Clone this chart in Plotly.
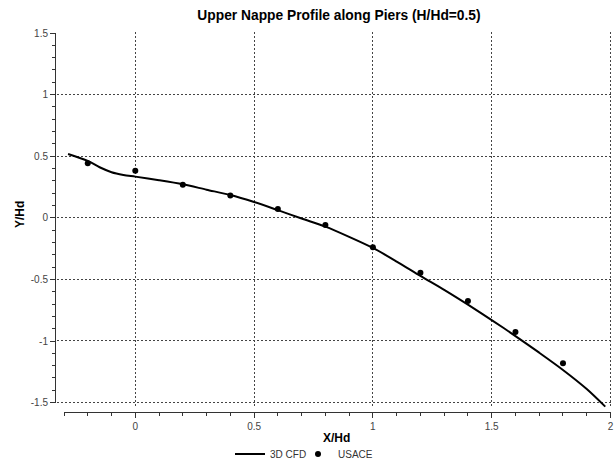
import plotly.graph_objects as go

# 3D CFD profile
cfd_x = [-0.283, -0.2, -0.15, -0.1, -0.05, 0.0, 0.1, 0.2, 0.3, 0.4, 0.5, 0.6, 0.7, 0.8,
         0.9, 1.0, 1.1, 1.2, 1.3, 1.4, 1.5, 1.6, 1.7, 1.8, 1.9, 1.978]
cfd_y = [0.518, 0.462, 0.41, 0.37, 0.348, 0.334, 0.305, 0.272, 0.228, 0.185, 0.128, 0.062,
         -0.006, -0.072, -0.155, -0.245, -0.355, -0.472, -0.585, -0.705, -0.83, -0.96,
         -1.095, -1.235, -1.39, -1.533]

# USACE data points
usace_x = [-0.2, 0.0, 0.2, 0.4, 0.6, 0.8, 1.0, 1.2, 1.4, 1.6, 1.8]
usace_y = [0.442, 0.382, 0.269, 0.18, 0.072, -0.058, -0.24, -0.446, -0.675, -0.927, -1.18]

x_ticks = [0, 0.5, 1, 1.5, 2]
x_tick_labels = ["0", "0.5", "1", "1.5", "2"]
y_ticks = [-1.5, -1, -0.5, 0, 0.5, 1, 1.5]
y_tick_labels = ["-1.5", "-1", "-0.5", "0", "0.5", "1", "1.5"]

FONT = "Arial, Liberation Sans, sans-serif"

W, H = 616, 465
L, R, T, B = 55, 3, 32, 53
PW, PH = W - L - R, H - T - B  # 558 x 380


def px(xpage):
    return (xpage - L) / PW


def py(ypage):
    return (H - B - ypage) / PH


fig = go.Figure()
fig.add_trace(go.Scatter(x=cfd_x, y=cfd_y, mode="lines", name="3D CFD", legend="legend",
                         line=dict(color="black", width=2, shape="spline", smoothing=0.8)))
fig.add_trace(go.Scatter(x=usace_x, y=usace_y, mode="markers", name="USACE", legend="legend2",
                         marker=dict(color="black", size=6, symbol="circle")))
# transparent copy that activates the offset tick axes (x2/y2)
fig.add_trace(go.Scatter(x=usace_x, y=usace_y, mode="markers", xaxis="x2", yaxis="y2",
                         marker=dict(opacity=0), showlegend=False, hoverinfo="skip"))

grid = dict(showgrid=True, gridcolor="#444444", griddash="2px,2px", gridwidth=1,
            zeroline=False, showline=False, ticks="", showticklabels=False,
            automargin=False)

tickax = dict(anchor="free", position=0, showgrid=False, zeroline=False,
              showline=True, linecolor="#333333", linewidth=1, automargin=False,
              ticks="outside", ticklen=5, tickcolor="#333333", tickwidth=1,
              ticklabeloverflow="allow",
              minor=dict(dtick=0.1, tick0=0, ticks="outside", ticklen=3,
                         tickcolor="#333333", tickwidth=1, showgrid=False),
              tickfont=dict(family=FONT, size=10, color="#444444"))

leg = dict(orientation="h", xanchor="left", y=py(454), yanchor="middle", itemwidth=30,
           font=dict(family=FONT, size=10, color="#333333"), bgcolor="rgba(0,0,0,0)")

fig.update_layout(
    width=W, height=H,
    margin=dict(l=L, r=R, t=T, b=B, autoexpand=False),
    plot_bgcolor="rgba(0,0,0,0)", paper_bgcolor="white",
    font=dict(family=FONT, size=10, color="#333333"),
    title=dict(text="<b>Upper Nappe Profile along Piers (H/Hd=0.5)</b>",
               x=339 / W, xanchor="center", xref="container",
               y=1 - 15 / H, yanchor="middle", yref="container",
               font=dict(family=FONT, size=13.8, color="black")),
    xaxis=dict(domain=[px(57), 1], range=[-0.3295, 2.0105], tickvals=x_ticks, **grid),
    yaxis=dict(domain=[py(408), 1], range=[-1.544, 1.508], tickvals=y_ticks, **grid),
    xaxis2=dict(domain=[px(64), px(610.74)], range=[-0.3, 2.001],
                tickvals=x_ticks, ticktext=x_tick_labels, **tickax),
    yaxis2=dict(domain=[py(402.6), py(33)], range=[-1.5, 1.5],
                tickvals=y_ticks, ticktext=y_tick_labels, **tickax),
    showlegend=True,
    legend=dict(x=px(230), **leg),
    legend2=dict(x=px(298), **leg),
    annotations=[
        dict(text="<b>X/Hd</b>", xref="paper", yref="paper",
             x=px(336), y=py(438), xanchor="center", yanchor="middle",
             showarrow=False, font=dict(family=FONT, size=12, color="black")),
        dict(text="<b>Y/Hd</b>", xref="paper", yref="paper",
             x=px(20), y=py(215), xanchor="center", yanchor="middle",
             textangle=-90, showarrow=False, font=dict(family=FONT, size=12, color="black")),
    ],
)

fig.write_html(
    "out.html",
    config={"displayModeBar": False},
    post_script="document.body.style.margin='0';document.body.style.overflow='hidden';",
)
